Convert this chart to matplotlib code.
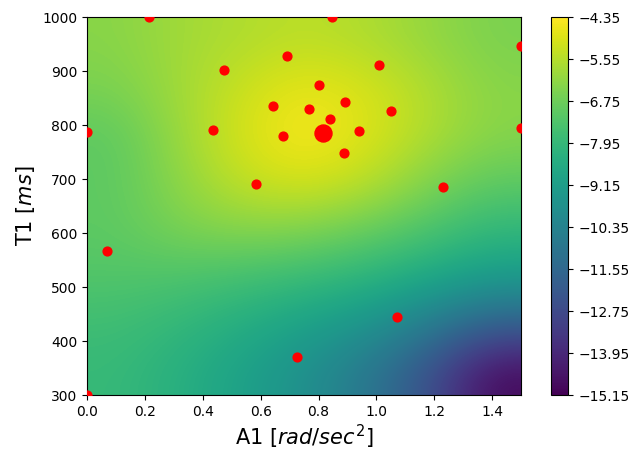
""" plot.py

    Objective surface (A1 vs T1) with sampled points.
"""
import numpy as np
import matplotlib
matplotlib.use('Agg')
import matplotlib.pyplot as plt

# sampled points
a1_pts = [0.214, 0.847, 1.5, 0.691, 0.474, 1.009, 0.802, 0.643, 0.767, 0.892,
          1.051, 0.840, 0.940, 0.436, 0.677, 0.888, 0.0, 1.5, 0.584, 1.231,
          0.069, 1.071, 0.726, 0.0]
t1_pts = [1000, 1000, 946, 928, 902, 911, 874, 835, 830, 843,
          826, 811, 789, 791, 780, 748, 787, 794, 691, 685,
          567, 444, 370, 300]

# best point
a1_best = [0.816]
t1_best = [785]

# coarse surface values (cell centres), rows from T1=1000 (top) down to T1=300
surface = [
    [-6.29, -5.86, -5.65, -5.43, -5.65, -6.08, -6.51],
    [-6.51, -5.86, -5.21, -4.70, -5.00, -5.65, -6.29],
    [-7.05, -5.97, -5.00, -4.40, -4.89, -5.65, -6.29],
    [-7.05, -6.19, -5.32, -5.00, -5.43, -6.40, -7.05],
    [-7.05, -6.51, -6.29, -6.40, -6.83, -7.37, -8.02],
    [-7.27, -7.37, -7.59, -7.81, -8.13, -8.67, -9.21],
    [-7.70, -8.02, -8.45, -8.99, -9.53, -10.61, -11.91],
    [-7.91, -8.35, -8.99, -9.75, -10.83, -12.45, -14.90],
]
cbar_ticks = [-4.35, -5.55, -6.75, -7.95, -9.15, -10.35, -11.55, -12.75, -13.95, -15.15]

fig = plt.figure(figsize=(6.28, 4.5), dpi=100)
ax = fig.add_axes([0.1385, 0.122, 0.6915, 0.840])
cax = fig.add_axes([0.877, 0.122, 0.028, 0.840])

im = ax.imshow(np.array(surface), extent=[0, 1.5, 300, 1000], origin='upper',
               aspect='auto', cmap='viridis', interpolation='bicubic',
               vmin=-15.15, vmax=-4.35)
ax.scatter(a1_pts, t1_pts, s=40, c='red', zorder=3)
ax.scatter(a1_best, t1_best, s=150, c='red', zorder=4)

ax.set_xlim(0, 1.5)
ax.set_ylim(300, 1000)
ax.set_xlabel('A1 [$rad/sec^2$]', fontsize=15, labelpad=3)
ax.set_ylabel('T1 [$ms$]', fontsize=15)

cb = fig.colorbar(im, cax=cax, ticks=cbar_ticks)
cb.ax.set_yticklabels([('%.2f' % t).replace('-', '\u2212') for t in cbar_ticks])

plt.savefig('out.png', dpi=100)
